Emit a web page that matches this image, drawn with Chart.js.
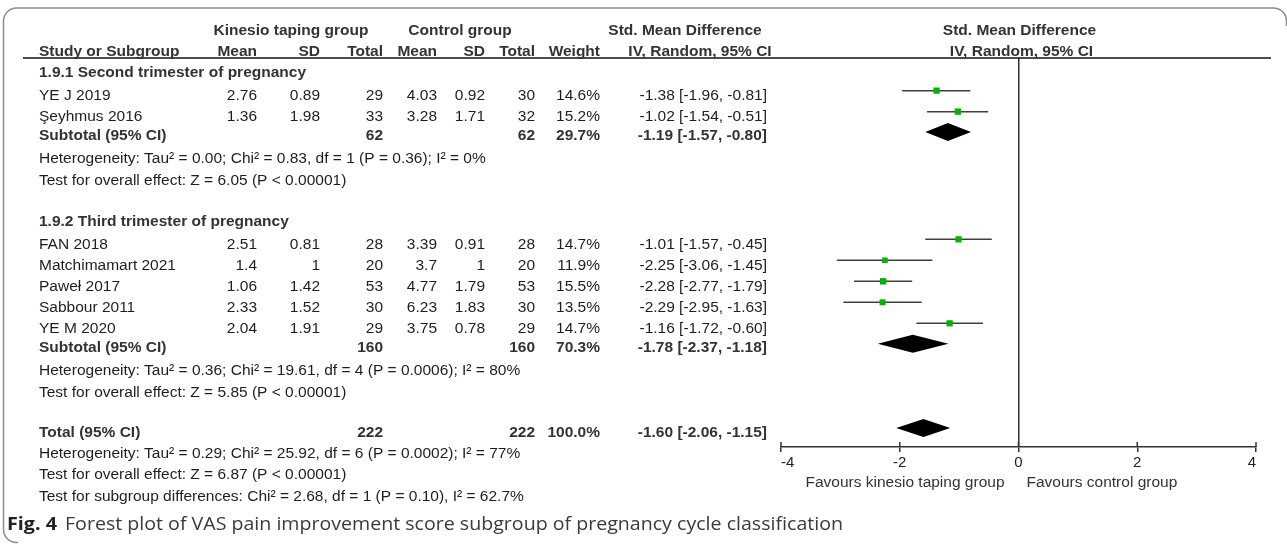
<!DOCTYPE html>
<html>
<head>
<meta charset="utf-8">
<script src="https://cdn.jsdelivr.net/npm/chart.js@4.4.1/dist/chart.umd.min.js"></script>
<style>
html,body{margin:0;padding:0;background:#fff;}
#wrap{position:relative;width:1287px;height:544px;}
</style>
</head>
<body>
<div id="wrap"><canvas id="c"></canvas></div>
<script>
// ---------------- DATA ----------------
const subgroups = ['1.9.1 Second trimester of pregnancy', '1.9.2 Third trimester of pregnancy'];
const studies = ['YE J 2019', 'Şeyhmus 2016', 'FAN 2018', 'Matchimamart 2021', 'Paweł 2017', 'Sabbour 2011', 'YE M 2020'];
const studyGroup = [0, 0, 1, 1, 1, 1, 1];
const expMean = ['2.76', '1.36', '2.51', '1.4', '1.06', '2.33', '2.04'];
const expSD = ['0.89', '1.98', '0.81', '1', '1.42', '1.52', '1.91'];
const expN = [29, 33, 28, 20, 53, 30, 29];
const ctlMean = ['4.03', '3.28', '3.39', '3.7', '4.77', '6.23', '3.75'];
const ctlSD = ['0.92', '1.71', '0.91', '1', '1.79', '1.83', '0.78'];
const ctlN = [30, 32, 28, 20, 53, 30, 29];
const weight = [14.6, 15.2, 14.7, 11.9, 15.5, 13.5, 14.7];
const smd = [-1.38, -1.02, -1.01, -2.25, -2.28, -2.29, -1.16];
const ciLow = [-1.96, -1.54, -1.57, -3.06, -2.77, -2.95, -1.72];
const ciHigh = [-0.81, -0.51, -0.45, -1.45, -1.79, -1.63, -0.60];

const subExpN = [62, 160];
const subCtlN = [62, 160];
const subWeight = [29.7, 70.3];
const subSmd = [-1.19, -1.78];
const subLow = [-1.57, -2.37];
const subHigh = [-0.80, -1.18];
const subHet = ['Heterogeneity: Tau² = 0.00; Chi² = 0.83, df = 1 (P = 0.36); I² = 0%',
                'Heterogeneity: Tau² = 0.36; Chi² = 19.61, df = 4 (P = 0.0006); I² = 80%'];
const subTest = ['Test for overall effect: Z = 6.05 (P < 0.00001)',
                 'Test for overall effect: Z = 5.85 (P < 0.00001)'];

const totalExpN = 222;
const totalCtlN = 222;
const totalWeight = 100.0;
const totalSmd = -1.60;
const totalLow = -2.06;
const totalHigh = -1.15;
const totalNotes = ['Heterogeneity: Tau² = 0.29; Chi² = 25.92, df = 6 (P = 0.0002); I² = 77%',
                    'Test for overall effect: Z = 6.87 (P < 0.00001)',
                    'Test for subgroup differences: Chi² = 2.68, df = 1 (P = 0.10), I² = 62.7%'];

const xTicks = [-4, -2, 0, 2, 4];
const headTop = ['Kinesio taping group', 'Control group', 'Std. Mean Difference', 'Std. Mean Difference'];
const headBottom = ['Study or Subgroup', 'Mean', 'SD', 'Total', 'Mean', 'SD', 'Total', 'Weight', 'IV, Random, 95% CI', 'IV, Random, 95% CI'];
const favours = ['Favours kinesio taping group', 'Favours control group'];
const captionBold = 'Fig. 4';
const captionText = 'Forest plot of VAS pain improvement score subgroup of pregnancy cycle classification';

// ---------------- LAYOUT ----------------
const W = 1287, H = 544;
const AREA_TOP = 58, AREA_BOTTOM = 447, AREA_LEFT = 781, AREA_RIGHT = 1256;
const ROW_PX = 21, FIRST_ROW_PX = 73;
const yMin = -(FIRST_ROW_PX - AREA_TOP) / ROW_PX;
const yMax = yMin + (AREA_BOTTOM - AREA_TOP) / ROW_PX;

const rows = [];
let u = 0;
subgroups.forEach((g, gi) => {
  if (gi > 0) u += 1.95;
  rows.push({u, kind: 'group', gi});
  let first = true;
  studies.forEach((s, i) => {
    if (studyGroup[i] !== gi) return;
    u += first ? 1.1 : 1.0; first = false;
    rows.push({u, kind: 'study', i});
  });
  u += 0.88; rows.push({u, kind: 'subtotal', gi});
  u += 1.1; rows.push({u, kind: 'note', text: subHet[gi]});
  u += 1.05; rows.push({u, kind: 'note', text: subTest[gi]});
});
u += 1.9; rows.push({u, kind: 'total'});
totalNotes.forEach(t => { u += 1.02; rows.push({u, kind: 'note', text: t}); });

const STUDY_MARK_SHIFT = 0.26, SUB_MARK_SHIFT = 0.17, TOTAL_MARK_SHIFT = 0.2;
const studyRowU = studies.map((s, i) => rows.find(r => r.kind === 'study' && r.i === i).u - STUDY_MARK_SHIFT);
const subRowU = subgroups.map((g, gi) => rows.find(r => r.kind === 'subtotal' && r.gi === gi).u - SUB_MARK_SHIFT);
const totalRowU = rows.find(r => r.kind === 'total').u - TOTAL_MARK_SHIFT;

// whiskers
const whiskerData = [];
studies.forEach((s, i) => {
  whiskerData.push({x: ciLow[i], y: studyRowU[i]});
  whiskerData.push({x: ciHigh[i], y: studyRowU[i]});
  whiskerData.push({x: null, y: null});
});
const squareData = studies.map((s, i) => ({x: smd[i], y: studyRowU[i]}));
const squareRadius = weight.map(w => 4.4 * Math.sqrt(w / 14.6));

const FONT = '"Liberation Sans", Arial, sans-serif';
const FS = 15.5;
const TXT = '#1e1e1e', HDR = '#333333', AX = '#333333';

const ci = (e, l, h) => e.toFixed(2) + ' [' + l.toFixed(2) + ', ' + h.toFixed(2) + ']';

const COL = {name: 39, eM: 257, eSD: 320, eN: 383, cM: 437, cSD: 485, cN: 535, w: 600, ci: 767};

const tablePlugin = {
  id: 'forestTable',
  afterDraw(chart) {
    const ctx = chart.ctx, ys = chart.scales.y, xs = chart.scales.x, ca = chart.chartArea;
    const Y = v => ys.getPixelForValue(v);
    ctx.save();

    // frame
    ctx.strokeStyle = '#8c8c8c'; ctx.lineWidth = 1.5;
    ctx.beginPath();
    ctx.moveTo(18, 542.5);
    ctx.arcTo(3.5, 542.5, 3.5, 528, 13);
    ctx.lineTo(3.5, 22);
    ctx.arcTo(3.5, 8, 18, 8, 13);
    ctx.lineTo(1272, 8);
    ctx.arcTo(1286.5, 8, 1286.5, 22, 13);
    ctx.lineTo(1286.5, 26);
    ctx.stroke();

    // header underline
    ctx.strokeStyle = '#111'; ctx.lineWidth = 1.5;
    ctx.beginPath(); ctx.moveTo(23, ca.top); ctx.lineTo(1271, ca.top); ctx.stroke();

    // upward tick marks on the axis
    ctx.strokeStyle = AX; ctx.lineWidth = 1.5;
    xs.ticks.forEach(t => {
      const px = xs.getPixelForValue(t.value);
      ctx.beginPath(); ctx.moveTo(px, ca.bottom); ctx.lineTo(px, ca.bottom - 5); ctx.stroke();
    });

    // diamonds
    const diamond = (e, l, h, yv) => {
      const yc = Y(yv), xl = xs.getPixelForValue(l), xe = xs.getPixelForValue(e), xh = xs.getPixelForValue(h);
      ctx.fillStyle = '#000';
      ctx.beginPath();
      ctx.moveTo(xl, yc); ctx.lineTo(xe, yc - 9); ctx.lineTo(xh, yc); ctx.lineTo(xe, yc + 9); ctx.closePath();
      ctx.fill();
    };
    subgroups.forEach((g, gi) => diamond(subSmd[gi], subLow[gi], subHigh[gi], subRowU[gi]));
    diamond(totalSmd, totalLow, totalHigh, totalRowU);

    // text helper
    ctx.textBaseline = 'middle';
    const txt = (s, x, y, align, bold, color) => {
      ctx.font = (bold ? 'bold ' : '') + FS + 'px ' + FONT;
      ctx.fillStyle = color || (bold ? HDR : TXT);
      ctx.textAlign = align;
      ctx.fillText(s, x, y);
    };

    // header rows
    const h1 = Y(-2), h2 = Y(-1);
    txt(headTop[0], 291, h1, 'center', true);
    txt(headTop[1], 460, h1, 'center', true);
    txt(headTop[2], 685, h1, 'center', true);
    txt(headTop[3], xs.getPixelForValue(0) + 1, h1, 'center', true);
    txt(headBottom[0], COL.name, h2, 'left', true);
    txt(headBottom[1], COL.eM, h2, 'right', true);
    txt(headBottom[2], COL.eSD, h2, 'right', true);
    txt(headBottom[3], COL.eN, h2, 'right', true);
    txt(headBottom[4], COL.cM, h2, 'right', true);
    txt(headBottom[5], COL.cSD, h2, 'right', true);
    txt(headBottom[6], COL.cN, h2, 'right', true);
    txt(headBottom[7], COL.w, h2, 'right', true);
    txt(headBottom[8], 700, h2, 'center', true);
    txt(headBottom[9], xs.getPixelForValue(0) + 3, h2, 'center', true);

    rows.forEach(r => {
      const y = Y(r.u);
      if (r.kind === 'group') {
        txt(subgroups[r.gi], COL.name, y, 'left', true);
      } else if (r.kind === 'study') {
        const i = r.i;
        txt(studies[i], COL.name, y, 'left');
        txt(expMean[i], COL.eM, y, 'right');
        txt(expSD[i], COL.eSD, y, 'right');
        txt(String(expN[i]), COL.eN, y, 'right');
        txt(ctlMean[i], COL.cM, y, 'right');
        txt(ctlSD[i], COL.cSD, y, 'right');
        txt(String(ctlN[i]), COL.cN, y, 'right');
        txt(weight[i].toFixed(1) + '%', COL.w, y, 'right');
        txt(ci(smd[i], ciLow[i], ciHigh[i]), COL.ci, y, 'right');
      } else if (r.kind === 'subtotal') {
        const gi = r.gi;
        txt('Subtotal (95% CI)', COL.name, y, 'left', true);
        txt(String(subExpN[gi]), COL.eN, y, 'right', true);
        txt(String(subCtlN[gi]), COL.cN, y, 'right', true);
        txt(subWeight[gi].toFixed(1) + '%', COL.w, y, 'right', true);
        txt(ci(subSmd[gi], subLow[gi], subHigh[gi]), COL.ci, y, 'right', true);
      } else if (r.kind === 'total') {
        txt('Total (95% CI)', COL.name, y, 'left', true);
        txt(String(totalExpN), COL.eN, y, 'right', true);
        txt(String(totalCtlN), COL.cN, y, 'right', true);
        txt(totalWeight.toFixed(1) + '%', COL.w, y, 'right', true);
        txt(ci(totalSmd, totalLow, totalHigh), COL.ci, y, 'right', true);
      } else {
        txt(r.text, COL.name, y, 'left');
      }
    });

    // favours labels
    const zx = xs.getPixelForValue(0);
    txt(favours[0], zx - 14, 483, 'right', false, '#333');
    txt(favours[1], zx + 8, 483, 'left', false, '#333');

    // caption
    const capY = 525;
    ctx.textAlign = 'left';
    ctx.font = 'bold 18px "Open Sans", sans-serif';
    ctx.fillStyle = '#222';
    let w = ctx.measureText(captionBold).width;
    ctx.save(); ctx.translate(7, capY); ctx.scale(50 / w, 1); ctx.fillText(captionBold, 0, 0); ctx.restore();
    ctx.font = '18px "Open Sans", sans-serif';
    ctx.fillStyle = '#3a3a3a';
    w = ctx.measureText(captionText).width;
    ctx.save(); ctx.translate(65, capY); ctx.scale(778 / w, 1); ctx.fillText(captionText, 0, 0); ctx.restore();

    ctx.restore();
  }
};

new Chart(document.getElementById('c'), {
  type: 'scatter',
  data: {
    datasets: [
      {
        label: 'CI',
        data: whiskerData,
        showLine: true,
        spanGaps: false,
        borderColor: '#404040',
        borderWidth: 1.5,
        pointRadius: 0,
        order: 2
      },
      {
        label: 'SMD',
        data: squareData,
        pointStyle: 'rect',
        pointRadius: squareRadius,
        pointHoverRadius: squareRadius,
        backgroundColor: '#00b400',
        borderColor: '#00b400',
        borderWidth: 0,
        order: 1
      }
    ]
  },
  options: {
    responsive: true,
    maintainAspectRatio: false,
    animation: false,
    events: [],
    layout: {padding: {left: AREA_LEFT, right: W - AREA_RIGHT, top: AREA_TOP, bottom: 0}},
    plugins: {legend: {display: false}, tooltip: {enabled: false}, title: {display: false}},
    scales: {
      x: {
        type: 'linear',
        position: 'bottom',
        min: xTicks[0],
        max: xTicks[xTicks.length - 1],
        afterBuildTicks: s => { s.ticks = xTicks.map(v => ({value: v})); },
        afterFit: s => { s.height = H - AREA_BOTTOM; },
        border: {display: true, color: AX, width: 1.5},
        grid: {
          display: true,
          drawOnChartArea: true,
          drawTicks: true,
          tickLength: 5,
          lineWidth: 1.5,
          color: c => (c.tick && c.tick.value === 0) ? AX : 'rgba(0,0,0,0)',
          tickColor: AX
        },
        ticks: {
          align: 'inner',
          padding: 2,
          color: '#222',
          font: {family: FONT, size: 15},
          callback: v => String(v)
        }
      },
      y: {
        type: 'linear',
        display: false,
        reverse: true,
        min: yMin,
        max: yMax
      }
    }
  },
  plugins: [tablePlugin]
});
</script>
</body>
</html>
